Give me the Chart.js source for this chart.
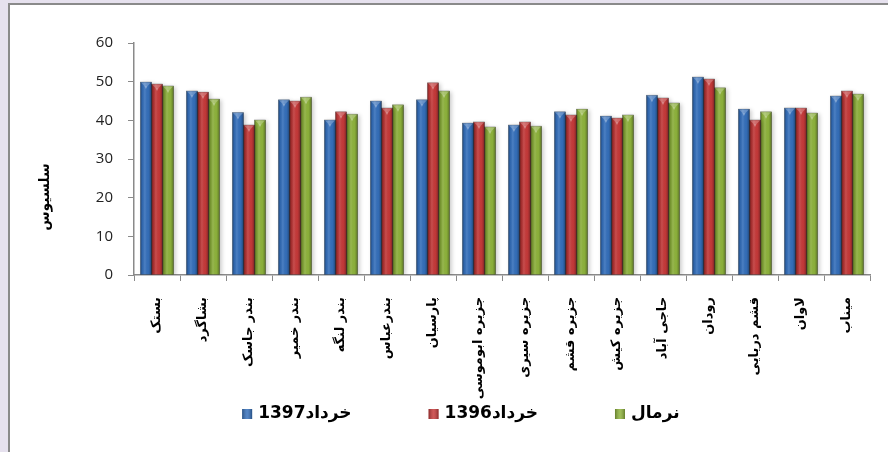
<!DOCTYPE html>
<html>
<head>
<meta charset="utf-8">
<script src="https://cdn.jsdelivr.net/npm/chart.js@4/dist/chart.umd.min.js"></script>
<style>
  html, body { margin: 0; padding: 0; background: #E6E1EE; }
  #c { display: block; }
</style>
</head>
<body>
<canvas id="c" width="888" height="452" style="width:888px;height:452px"></canvas>
<script>
// ---- data ----
const categories = ['بستک','بشاگرد','بندر جاسک','بندر خمیر','بندر لنگه','بندرعباس','پارسیان','جزیره ابوموسی','جزیره سیری','جزیره قشم','جزیره کیش','حاجی آباد','رودان','قشم دریایی','لاوان','میناب'];
const seriesNames = ['خرداد1397', 'خرداد1396', 'نرمال'];
const values1397 = [49.9, 47.6, 42.0, 45.3, 40.1, 45.0, 45.3, 39.3, 38.8, 42.2, 41.1, 46.5, 51.2, 42.9, 43.2, 46.3];
const values1396 = [49.4, 47.3, 38.8, 45.0, 42.2, 43.2, 49.7, 39.6, 39.6, 41.4, 40.6, 45.8, 50.7, 40.1, 43.2, 47.6];
const valuesNormal = [48.9, 45.5, 40.1, 46.0, 41.6, 44.0, 47.6, 38.3, 38.5, 42.9, 41.4, 44.5, 48.4, 42.2, 41.9, 46.8];
const yTicks = [0, 10, 20, 30, 40, 50, 60];
const yTitle = 'سلسیوس';

const colors = ['#3570BC', '#C73A3A', '#8FB43C'];

const panelPlugin = {
  id: 'panel',
  beforeDraw(chart) {
    const ctx = chart.ctx;
    ctx.save();
    ctx.fillStyle = '#E6E1EE';
    ctx.fillRect(0, 0, chart.width, chart.height);
    ctx.fillStyle = '#FFFFFF';
    ctx.fillRect(9, 4, chart.width, chart.height);
    ctx.strokeStyle = '#8A8A8A';
    ctx.lineWidth = 2;
    ctx.strokeRect(9, 4, chart.width + 10, chart.height + 10);
    ctx.restore();
  }
};

const bevelPlugin = {
  id: 'bevel',
  beforeDatasetsDraw(chart) {
    const ctx = chart.ctx;
    ctx.save();
    ctx.shadowColor = 'rgba(0,0,0,0.22)';
    ctx.shadowBlur = 4;
    ctx.shadowOffsetX = 2;
    ctx.shadowOffsetY = 1;
  },
  afterDatasetsDraw(chart) {
    const ctx = chart.ctx;
    ctx.restore();
    ctx.save();
    chart.data.datasets.forEach((ds, di) => {
      const meta = chart.getDatasetMeta(di);
      meta.data.forEach(bar => {
        const w = bar.width, l = bar.x - w / 2, r = bar.x + w / 2;
        const top = bar.y, base = bar.base;
        const g = ctx.createLinearGradient(l, 0, r, 0);
        g.addColorStop(0, 'rgba(0,0,0,0.35)');
        g.addColorStop(0.18, 'rgba(0,0,0,0.08)');
        g.addColorStop(0.4, 'rgba(255,255,255,0.12)');
        g.addColorStop(0.7, 'rgba(0,0,0,0.02)');
        g.addColorStop(0.88, 'rgba(0,0,0,0.18)');
        g.addColorStop(1, 'rgba(0,0,0,0.45)');
        ctx.fillStyle = g;
        ctx.fillRect(l, top, w, base - top);
        const b = Math.min(4, w / 2);
        ctx.beginPath();
        ctx.moveTo(l, top);
        ctx.lineTo(r, top);
        ctx.lineTo(r - b, top + b);
        ctx.lineTo(l + b, top + b);
        ctx.closePath();
        ctx.fillStyle = 'rgba(255,255,255,0.25)';
        ctx.fill();
        ctx.beginPath();
        ctx.moveTo(l + b, top + b);
        ctx.lineTo(r - b, top + b);
        ctx.lineTo(bar.x, top + b + 3);
        ctx.closePath();
        ctx.fillStyle = 'rgba(255,255,255,0.35)';
        ctx.fill();
        ctx.strokeStyle = 'rgba(0,0,0,0.35)';
        ctx.lineWidth = 0.6;
        ctx.strokeRect(l, top, w, base - top);
      });
    });
    ctx.restore();
  }
};

const textPlugin = {
  id: 'texts',
  afterDraw(chart) {
    const ctx = chart.ctx;
    ctx.save();
    ctx.translate(45, 197);
    ctx.rotate(-Math.PI / 2);
    ctx.font = 'bold 14px "DejaVu Sans"';
    ctx.fillStyle = '#000';
    ctx.textAlign = 'center';
    ctx.textBaseline = 'middle';
    ctx.fillText(yTitle, 0, 0);
    ctx.restore();

    ctx.save();
    ctx.font = 'bold 17px "DejaVu Sans"';
    ctx.textBaseline = 'middle';
    ctx.textAlign = 'left';
    const box = 10, gapBT = 6, gapItems = 77;
    const items = chart.data.datasets.map(ds => ({ text: ds.label, color: ds.backgroundColor, w: ctx.measureText(ds.label).width }));
    const total = items.reduce((s, it) => s + box + gapBT + it.w, 0) + gapItems * (items.length - 1);
    let x = chart.width * 0.519 - total / 2;
    const y = 414;
    items.forEach(it => {
      ctx.fillStyle = it.color;
      ctx.fillRect(x, y - 5, box, box);
      const g = ctx.createLinearGradient(x, 0, x + box, 0);
      g.addColorStop(0, 'rgba(0,0,0,0.3)');
      g.addColorStop(0.5, 'rgba(255,255,255,0.15)');
      g.addColorStop(1, 'rgba(0,0,0,0.3)');
      ctx.fillStyle = g;
      ctx.fillRect(x, y - 5, box, box);
      ctx.fillStyle = '#000';
      ctx.fillText(it.text, x + box + gapBT, y);
      x += box + gapBT + it.w + gapItems;
    });
    ctx.restore();
  }
};

new Chart(document.getElementById('c'), {
  type: 'bar',
  data: {
    labels: categories,
    datasets: [
      { label: seriesNames[0], data: values1397, backgroundColor: colors[0] },
      { label: seriesNames[1], data: values1396, backgroundColor: colors[1] },
      { label: seriesNames[2], data: valuesNormal, backgroundColor: colors[2] }
    ]
  },
  plugins: [panelPlugin, bevelPlugin, textPlugin],
  options: {
    responsive: false,
    animation: false,
    devicePixelRatio: 1,
    barPercentage: 1.0,
    categoryPercentage: 0.72,
    layout: { padding: { left: 0, right: 18, top: 43, bottom: 0 } },
    plugins: { legend: { display: false }, tooltip: { enabled: false } },
    scales: {
      x: {
        grid: { display: true, drawOnChartArea: false, drawTicks: true, tickLength: 6, color: '#8A8A8A', offset: true },
        border: { color: '#8A8A8A', width: 1.5 },
        ticks: {
          autoSkip: false, minRotation: 90, maxRotation: 90, padding: 16,
          color: '#000', font: { family: 'DejaVu Sans', weight: 'bold', size: 13 }
        },
        afterFit(scale) { scale.height = 177; }
      },
      y: {
        min: 0, max: 60,
        afterBuildTicks(scale) { scale.ticks = yTicks.map(v => ({ value: v })); },
        grid: { drawOnChartArea: false, drawTicks: true, tickLength: 6, color: '#8A8A8A' },
        border: { color: '#8A8A8A', width: 1.5 },
        ticks: { padding: 15, color: '#222', font: { family: 'Open Sans', size: 15 } },
        afterFit(scale) { scale.width = 134; }
      }
    }
  }
});
</script>
</body>
</html>
